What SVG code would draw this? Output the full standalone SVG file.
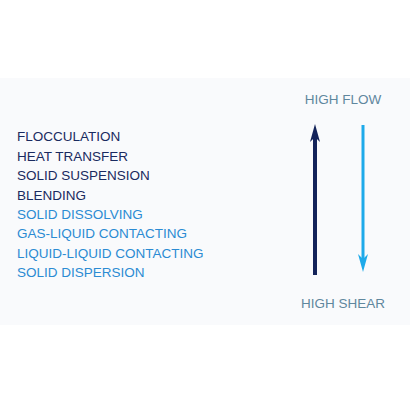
<svg xmlns="http://www.w3.org/2000/svg" width="410" height="410" viewBox="0 0 410 410">
<style>
text{font-family:"Liberation Sans",Arial,sans-serif;font-size:13.5px}
.d{fill:#1a2a60}
.l{fill:#2b8bd3}
.h{fill:#5f879e}
</style>
<rect x="0" y="0" width="410" height="410" fill="#ffffff"/>
<rect x="0" y="78" width="410" height="247" fill="#f9fafc"/>
<g id="list">
<text class="d" x="17" y="141">FLOCCULATION</text>
<text class="d" x="17" y="160.5">HEAT TRANSFER</text>
<text class="d" x="17" y="180">SOLID SUSPENSION</text>
<text class="d" x="17" y="199.5">BLENDING</text>
<text class="l" x="17" y="218.5">SOLID DISSOLVING</text>
<text class="l" x="17" y="238">GAS-LIQUID CONTACTING</text>
<text class="l" x="17" y="257.5">LIQUID-LIQUID CONTACTING</text>
<text class="l" x="17" y="277">SOLID DISPERSION</text>
</g>
<g id="high-flow"><text class="h" x="343" y="104" text-anchor="middle">HIGH FLOW</text></g>
<g id="high-shear"><text class="h" x="343" y="307.5" text-anchor="middle">HIGH SHEAR</text></g>
<g id="connectors">
<path d="M315 275 L315 136" stroke="#13235a" stroke-width="4" fill="none"/>
<path d="M315 124 L320 142 L315 137 L310 142 Z" fill="#13235a"/>
<path d="M363 125 L363 262" stroke="#1eaaea" stroke-width="3" fill="none"/>
<path d="M363 272 L368 254 L363 259 L358 254 Z" fill="#1eaaea"/>
</g>
</svg>
